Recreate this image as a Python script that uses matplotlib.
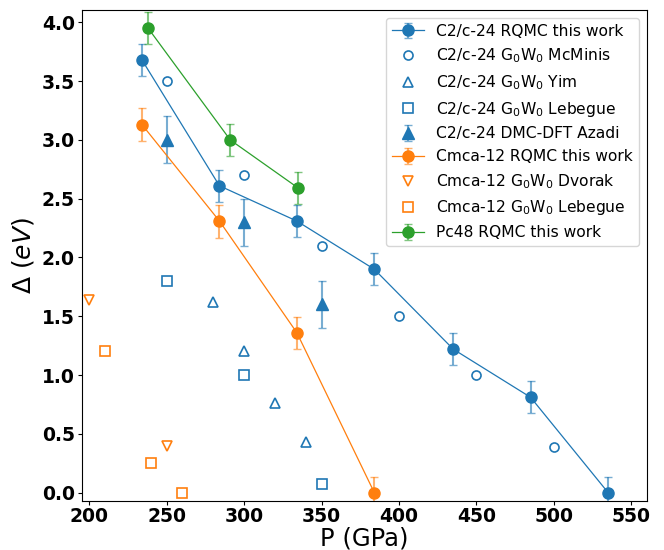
import matplotlib
matplotlib.use("Agg")
import matplotlib.pyplot as plt
import numpy as np

# C2/c-24 RQMC this work
c2c_p = [234, 284, 334, 384, 435, 485, 535]
c2c_gap = [3.68, 2.61, 2.31, 1.90, 1.22, 0.81, 0.0]
c2c_err = [0.135, 0.135, 0.135, 0.135, 0.135, 0.135, 0.13]

# Cmca-12 RQMC this work
cmca_p = [234, 284, 334, 384]
cmca_gap = [3.13, 2.31, 1.36, 0.0]
cmca_err = [0.14, 0.14, 0.135, 0.13]

# Pc48 RQMC this work
pc48_p = [238, 291, 335]
pc48_gap = [3.95, 3.0, 2.59]
pc48_err = [0.135, 0.135, 0.135]

# other works
mcminis_p = [250, 300, 350, 400, 450, 500]
mcminis_gap = [3.5, 2.7, 2.1, 1.5, 1.0, 0.39]
yim_p = [280, 300, 320, 340]
yim_gap = [1.62, 1.2, 0.76, 0.43]
leb_c2c_p = [250, 300, 350]
leb_c2c_gap = [1.8, 1.0, 0.07]
azadi_p = [250, 300, 350]
azadi_gap = [3.0, 2.3, 1.6]
azadi_err = [0.2, 0.2, 0.2]
dvorak_p = [200, 250]
dvorak_gap = [1.64, 0.4]
leb_cmca_p = [210, 240, 260]
leb_cmca_gap = [1.2, 0.25, 0.0]

fig = plt.figure(figsize=(6.64, 5.5), dpi=100)
ax = fig.add_axes([0.123, 0.09, 0.851, 0.892])

handles = []

def eb(x, y, e, col, lab, marker='o', ls='-'):
    c = ax.errorbar(x, y, yerr=e, color=col, marker=marker, ms=8, lw=0.9,
                    ls=ls, capsize=3, elinewidth=1.5, label=lab)
    for l in c[1]:
        l.set_alpha(0.6)
    for l in c[2]:
        l.set_alpha(0.6)
    handles.append(c)

def op(x, y, col, marker, lab):
    l, = ax.plot(x, y, ls='none', marker=marker, ms=6.5, mew=1.2,
                 mfc='none', mec=col, label=lab)
    handles.append(l)

eb(c2c_p, c2c_gap, c2c_err, 'C0', 'C2/c-24 RQMC this work')
op(mcminis_p, mcminis_gap, 'C0', 'o', r'C2/c-24 G$_0$W$_0$ McMinis')
op(yim_p, yim_gap, 'C0', '^', r'C2/c-24 G$_0$W$_0$ Yim')
op(leb_c2c_p, leb_c2c_gap, 'C0', 's', r'C2/c-24 G$_0$W$_0$ Lebegue')
eb(azadi_p, azadi_gap, azadi_err, 'C0', 'C2/c-24 DMC-DFT Azadi', marker='^', ls='none')
eb(cmca_p, cmca_gap, cmca_err, 'C1', 'Cmca-12 RQMC this work')
op(dvorak_p, dvorak_gap, 'C1', 'v', r'Cmca-12 G$_0$W$_0$ Dvorak')
op(leb_cmca_p, leb_cmca_gap, 'C1', 's', r'Cmca-12 G$_0$W$_0$ Lebegue')
eb(pc48_p, pc48_gap, pc48_err, 'C2', 'Pc48 RQMC this work')

ax.set_xlim(195, 560)
ax.set_ylim(-0.068, 4.107)
ax.set_xticks([200, 250, 300, 350, 400, 450, 500, 550])
ax.set_yticks(np.arange(0, 4.01, 0.5))
ax.tick_params(length=3, pad=2)
for t in ax.get_xticklabels() + ax.get_yticklabels():
    t.set_fontsize(13.5)
    t.set_fontweight('bold')
ax.set_xlabel('P (GPa)', fontsize=17.5, labelpad=0)
ax.set_ylabel(r'$\Delta$ ($eV$)', fontsize=18)
ax.legend(handles=handles, loc='upper right', fontsize=11.2)

fig.savefig('out.png', dpi=100)
